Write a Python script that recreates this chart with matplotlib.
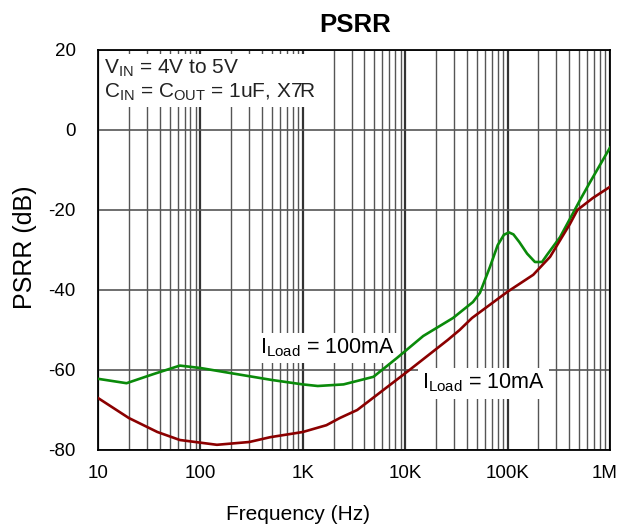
import matplotlib.pyplot as plt
import matplotlib.transforms as mtransforms
from matplotlib.ticker import FixedLocator, NullFormatter

plt.rcParams['font.family'] = ['Liberation Sans', 'DejaVu Sans']
plt.rcParams['mathtext.fontset'] = 'custom'
plt.rcParams['mathtext.rm'] = 'Liberation Sans'
plt.rcParams['axes.unicode_minus'] = False

# Data
freq_100mA = [10, 19, 35, 63, 100, 200, 500, 1000, 1400, 2500, 4900, 8300, 15000,
              29300, 45900, 53700, 67300, 80000, 92000, 103000, 114000, 130000,
              155000, 185000, 217000, 243000, 325000, 435000, 510000, 630000, 1000000]
psrr_100mA = [-62.2, -63.3, -61.0, -58.9, -59.5, -60.8, -62.5, -63.6, -64.0, -63.6,
              -61.7, -57.0, -51.5, -47.0, -43.0, -40.7, -34.2, -28.8, -26.2, -25.6,
              -26.1, -28.0, -30.9, -33.0, -33.0, -31.2, -26.8, -20.8, -17.5, -13.3, -4.4]

freq_10mA = [10, 20, 38, 63, 145, 300, 480, 1000, 1700, 2300, 3400, 11000, 26000,
             34000, 44900, 99000, 178000, 260000, 406000, 480000, 680000, 1000000]
psrr_10mA = [-67.0, -72.0, -75.5, -77.5, -78.7, -78.0, -76.8, -75.5, -73.8, -72.0,
             -70.0, -60.0, -52.5, -50.0, -47.0, -40.5, -36.2, -31.7, -23.5, -20.0,
             -17.0, -14.2]

x_ticks = [10, 100, 1e3, 1e4, 1e5, 1e6]
x_labels = ['10', '100', '1K', '10K', '100K', '1M']
y_ticks = [20, 0, -20, -40, -60, -80]

W, H = 621, 529
fig = plt.figure(figsize=(W / 100, H / 100), dpi=100)
ax = fig.add_axes([98 / W, 1 - 450 / H, 512 / W, 400 / H])

ax.plot(freq_100mA, psrr_100mA, color='#0a8a0a', lw=1.9, zorder=3)
ax.plot(freq_10mA, psrr_10mA, color='#8b0000', lw=1.9, zorder=3)

ax.set_xscale('log')
ax.set_xlim(10, 1e6)
ax.set_ylim(-80, 20)
ax.set_xticks(x_ticks)
ax.set_xticklabels(x_labels)
ax.set_yticks(y_ticks)
minors = [m * 10 ** d for d in range(1, 6) for m in range(2, 10)]
ax.xaxis.set_minor_locator(FixedLocator(minors))
ax.xaxis.set_minor_formatter(NullFormatter())
ax.tick_params(which='both', length=0, labelsize=13.5)
ax.tick_params(axis='x', pad=11)
ax.tick_params(axis='y', pad=16)
# last x label sits a little inside the figure edge in the reference
last = ax.get_xticklabels()[-1]
last.set_transform(last.get_transform() +
                   mtransforms.ScaledTranslation(-5 / 100, 0, fig.dpi_scale_trans))

ax.grid(True, which='major', axis='x', color='#333333', lw=1.6)
ax.grid(True, which='minor', axis='x', color='#555555', lw=1.0)
ax.grid(True, which='major', axis='y', color='#555555', lw=1.2)
for s in ax.spines.values():
    s.set_color('black')
    s.set_linewidth(1.3)

fig.text(355 / W, 1 - 25 / H, 'PSRR', fontsize=18.5, fontweight='bold',
         ha='center', va='center')
fig.text(298 / W, 1 - 515 / H, 'Frequency (Hz)', fontsize=15,
         ha='center', va='center')
fig.text(25 / W, 1 - 247 / H, 'PSRR (dB)', fontsize=18, rotation=90,
         ha='center', va='center')

# label boxes hide the grid but stay under the curves
box = dict(facecolor='white', edgecolor='none', pad=3)
ax.text(0.012, 0.98, '$\\mathregular{V_{IN}}$ = 4V to 5V\n'
        '$\\mathregular{C_{IN}}$ = $\\mathregular{C_{OUT}}$ = 1uF, X7R',
        transform=ax.transAxes, fontsize=15, va='top', ha='left',
        linespacing=1.15, color='#222222', bbox=box, zorder=2.5)
ax.text(382, -54.5, '$\\mathregular{I_{Load}}$ = 100mA', fontsize=15.5,
        ha='left', va='center', bbox=box, zorder=2.5)
ax.text(14600, -63.3, '$\\mathregular{I_{Load}}$ = 10mA', fontsize=15.5,
        ha='left', va='center', bbox=box, zorder=2.5)

fig.savefig('out.png', dpi=100)
